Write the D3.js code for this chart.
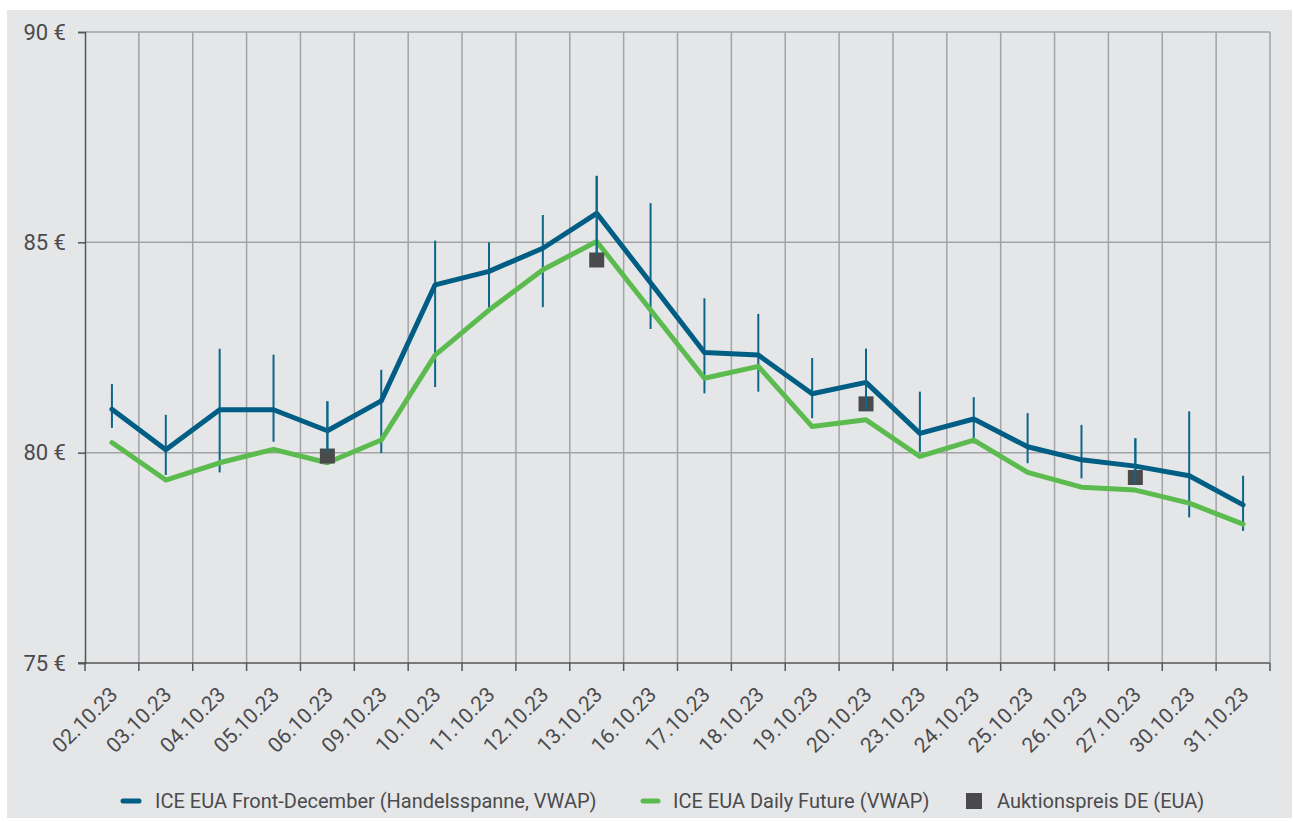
<!DOCTYPE html>
<html>
<head>
<meta charset="utf-8">
<script src="https://cdn.jsdelivr.net/npm/d3@7"></script>
<style>
  body { margin: 0; background: #fff; }
  text { font-family: Roboto, "Open Sans", sans-serif; fill: #4b4b4d; }
</style>
</head>
<body>
<div id="chart"></div>
<script>
// Handelstage Oktober 2023
var dates = ["02.10.23","03.10.23","04.10.23","05.10.23","06.10.23","09.10.23","10.10.23","11.10.23",
             "12.10.23","13.10.23","16.10.23","17.10.23","18.10.23","19.10.23","20.10.23","23.10.23",
             "24.10.23","25.10.23","26.10.23","27.10.23","30.10.23","31.10.23"];

// ICE EUA Front-December VWAP, with daily high / low (Handelsspanne)
var frontVwap = [81.03,80.07,81.02,81.02,80.52,81.23,83.99,84.31,84.86,85.69,84.04,82.38,82.32,81.40,81.67,80.46,80.80,80.14,79.83,79.68,79.45,78.76];
var frontHigh = [81.63,80.90,82.47,82.33,81.22,81.97,85.04,85.00,85.65,86.58,85.93,83.67,83.30,82.25,82.47,81.45,81.32,80.94,80.66,80.34,80.98,79.45];
var frontLow  = [80.59,79.47,79.53,80.26,79.99,79.99,81.56,83.41,83.46,84.70,82.94,81.41,81.45,80.82,81.00,80.02,80.22,79.75,79.39,79.27,78.46,78.14];

// ICE EUA Daily Future VWAP
var dailyVwap = [80.24,79.35,79.76,80.08,79.76,80.30,82.32,83.39,84.35,85.02,83.39,81.77,82.05,80.62,80.78,79.91,80.30,79.53,79.18,79.11,78.80,78.30];

// Auktionspreis DE (EUA), only on auction days
var auctionDates  = ["06.10.23","13.10.23","20.10.23","27.10.23"];
var auctionPrices = [79.92, 84.58, 81.16, 79.41];

var yTicks = [75, 80, 85, 90];

var legendLabels = ["ICE EUA Front-December (Handelsspanne, VWAP)", "ICE EUA Daily Future (VWAP)", "Auktionspreis DE (EUA)"];

var blue = "#005d83",
    green = "#5cbb4e",
    grey = "#4b4b4d";

var W = 1293, H = 822;
var margin = { top: 32, left: 85, right: 23, bottom: 159 };

var svg = d3.select("#chart").append("svg")
    .attr("width", W)
    .attr("height", H);

svg.append("rect")
    .attr("x", 7).attr("y", 10)
    .attr("width", W - 8).attr("height", H - 14)
    .attr("fill", "#e5e6e8");

var x = d3.scaleBand()
    .domain(dates)
    .range([margin.left, W - margin.right])
    .padding(0);

var y = d3.scaleLinear()
    .domain([75, 90])
    .range([H - margin.bottom, margin.top]);

var cx = function(d) { return x(d) + x.bandwidth() / 2; };
var edges = d3.range(dates.length + 1).map(function(i) { return margin.left + i * x.step(); });

// grid
var grid = svg.append("g").attr("class", "grid");
grid.selectAll("line.h")
    .data(yTicks.slice(1))
    .enter().append("line")
    .attr("class", "h")
    .attr("x1", margin.left).attr("x2", W - margin.right)
    .attr("y1", function(d) { return y(d); }).attr("y2", function(d) { return y(d); })
    .attr("stroke", "#a2a3a5").attr("stroke-width", 1.5);

grid.selectAll("line.v")
    .data(edges.slice(1))
    .enter().append("line")
    .attr("class", "v")
    .attr("x1", function(d) { return d; }).attr("x2", function(d) { return d; })
    .attr("y1", y(90)).attr("y2", y(75))
    .attr("stroke", "#a2a3a5").attr("stroke-width", 1.5);

// y axis
var yAxis = svg.append("g")
    .attr("transform", "translate(" + margin.left + ",0)")
    .call(d3.axisLeft(y).tickValues(yTicks).tickFormat(function(d) { return d + " €"; }).tickSize(7).tickPadding(12));
yAxis.select(".domain").attr("stroke", "#555").attr("stroke-width", 1.5);
yAxis.selectAll(".tick line").attr("stroke", "#555").attr("stroke-width", 1.5);
yAxis.selectAll(".tick text")
    .style("font-size", "22px")
    .attr("fill", grey);

// x axis line and boundary ticks
var xAxis = svg.append("g").attr("class", "x-axis");
xAxis.append("line")
    .attr("x1", margin.left - 7).attr("x2", W - margin.right)
    .attr("y1", y(75)).attr("y2", y(75))
    .attr("stroke", "#555").attr("stroke-width", 1.5);
xAxis.selectAll("line.tick")
    .data(edges)
    .enter().append("line")
    .attr("class", "tick")
    .attr("x1", function(d) { return d; }).attr("x2", function(d) { return d; })
    .attr("y1", y(75)).attr("y2", y(75) + 8)
    .attr("stroke", "#555").attr("stroke-width", 1.5);
xAxis.selectAll("text")
    .data(dates)
    .enter().append("text")
    .attr("text-anchor", "end")
    .attr("transform", function(d) { return "translate(" + (cx(d) + 7) + "," + (y(75) + 33) + ") rotate(-45)"; })
    .style("font-size", "21px")
    .text(function(d) { return d; });

// error bars (Handelsspanne)
svg.append("g").selectAll("line")
    .data(dates)
    .enter().append("line")
    .attr("x1", cx).attr("x2", cx)
    .attr("y1", function(d, i) { return y(frontHigh[i]); })
    .attr("y2", function(d, i) { return y(frontLow[i]); })
    .attr("stroke", "#0b668a").attr("stroke-width", 2);

var line = d3.line()
    .x(function(d) { return cx(d.date); })
    .y(function(d) { return y(d.value); });

svg.append("path")
    .datum(dates.map(function(d, i) { return { date: d, value: dailyVwap[i] }; }))
    .attr("d", line)
    .attr("fill", "none")
    .attr("stroke", green).attr("stroke-width", 5)
    .attr("stroke-linejoin", "round").attr("stroke-linecap", "round");

svg.append("path")
    .datum(dates.map(function(d, i) { return { date: d, value: frontVwap[i] }; }))
    .attr("d", line)
    .attr("fill", "none")
    .attr("stroke", blue).attr("stroke-width", 5)
    .attr("stroke-linejoin", "round").attr("stroke-linecap", "round");

// auction squares
var sq = 15;
svg.append("g").selectAll("rect")
    .data(auctionDates)
    .enter().append("rect")
    .attr("x", function(d) { return cx(d) - sq / 2; })
    .attr("y", function(d, i) { return y(auctionPrices[i]) - sq / 2; })
    .attr("width", sq).attr("height", sq)
    .attr("fill", "#4a4a4c");

// redraw bars on top of squares, as in the original
svg.append("g").selectAll("line")
    .data(auctionDates)
    .enter().append("line")
    .attr("x1", cx).attr("x2", cx)
    .attr("y1", function(d) { return y(frontHigh[dates.indexOf(d)]); })
    .attr("y2", function(d) { return y(frontLow[dates.indexOf(d)]); })
    .attr("stroke", "#0b668a").attr("stroke-width", 2);

// legend
var ly = 801;
var legend = svg.append("g").attr("class", "legend");
legend.append("line")
    .attr("x1", 123).attr("x2", 139).attr("y1", ly).attr("y2", ly)
    .attr("stroke", blue).attr("stroke-width", 5).attr("stroke-linecap", "round");
legend.append("text").attr("x", 155).attr("y", ly + 7).style("font-size", "20px").text(legendLabels[0]);

legend.append("line")
    .attr("x1", 643).attr("x2", 658).attr("y1", ly).attr("y2", ly)
    .attr("stroke", green).attr("stroke-width", 5).attr("stroke-linecap", "round");
legend.append("text").attr("x", 673).attr("y", ly + 7).style("font-size", "20px").text(legendLabels[1]);

legend.append("rect")
    .attr("x", 966).attr("y", ly - 8).attr("width", 16).attr("height", 16)
    .attr("fill", "#4a4a4c");
legend.append("text").attr("x", 997).attr("y", ly + 7).style("font-size", "20px").text(legendLabels[2]);
</script>
</body>
</html>
